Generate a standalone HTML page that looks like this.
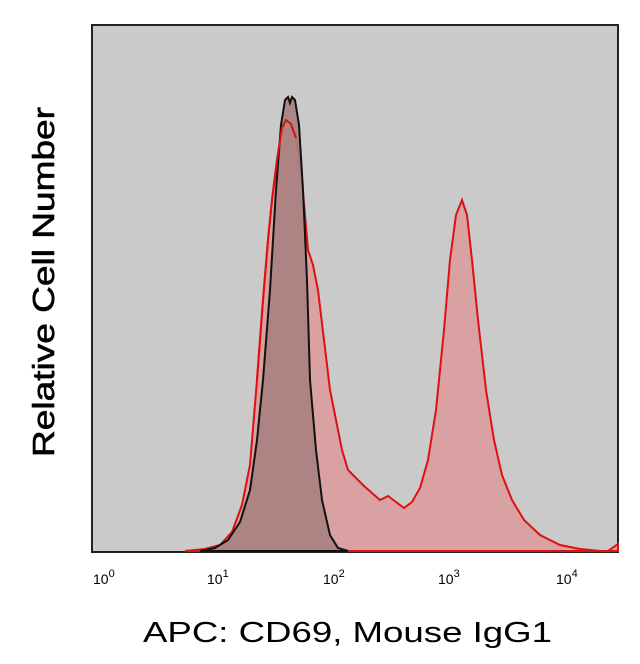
<!DOCTYPE html>
<html><head><style>
body{margin:0;background:#fff;width:640px;height:659px;overflow:hidden;font-family:"Liberation Sans",sans-serif}
</style></head><body>
<svg width="640" height="659" xmlns="http://www.w3.org/2000/svg">
<rect x="92" y="25" width="526" height="527" fill="#cacaca" stroke="#222" stroke-width="2"/>
<path d="M185,551 L205,549 L220,545 L232,532 L242,505 L250,465 L257,380 L263,300 L268,240 L272,200 L277,160 L282,128 L286,120 L291,124 L296,138 L301,170 L305,215 L308,250 L313,265 L318,290 L324,340 L330,390 L336,420 L342,450 L348,470 L356,478 L364,486 L372,493 L380,500 L388,496 L396,502 L404,508 L412,502 L420,488 L428,460 L436,410 L444,330 L450,260 L456,215 L462,200 L467,215 L472,260 L478,320 L486,390 L494,440 L502,475 L512,500 L524,520 L540,535 L560,545 L580,549 L600,551 L608,551 L618,544 L618,551 Z" fill="#d9a1a1" stroke="#e01010" stroke-width="2"/>
<path d="M200,551 L215,548 L228,540 L240,522 L250,490 L257,440 L263,380 L270,290 L276,190 L281,125 L285,100 L288,97 L290,103 L292,97 L295,100 L299,125 L303,190 L307,280 L310,380 L316,450 L322,500 L330,535 L338,548 L348,551 Z" fill="#a88080" fill-opacity="0.9" stroke="#111" stroke-width="2"/>
<path d="M257,380 L263,300 L268,240 L272,200 L277,160 L282,128 L286,120 L291,124 L296,138" fill="none" stroke="#e01010" stroke-width="2"/>
<g font-size="14" fill="#000">
<text x="93" y="584">10<tspan dy="-7" font-size="11">0</tspan></text>
<text x="207" y="584">10<tspan dy="-7" font-size="11">1</tspan></text>
<text x="323" y="584">10<tspan dy="-7" font-size="11">2</tspan></text>
<text x="438" y="584">10<tspan dy="-7" font-size="11">3</tspan></text>
<text x="556" y="584">10<tspan dy="-7" font-size="11">4</tspan></text>
</g>
<text x="143" y="642" font-size="29" textLength="409" lengthAdjust="spacingAndGlyphs" fill="#000">APC: CD69, Mouse IgG1</text>
<text transform="translate(54,457) rotate(-90)" font-size="31" stroke="#000" stroke-width="0.6" textLength="350" lengthAdjust="spacingAndGlyphs" fill="#000">Relative Cell Number</text>
</svg>
</body></html>
